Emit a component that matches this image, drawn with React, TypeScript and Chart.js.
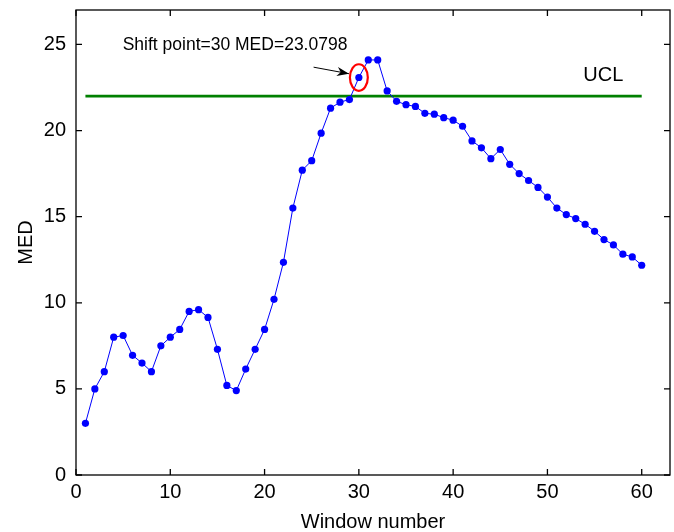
import React, { useEffect, useRef } from "react";
import { Chart, registerables } from "chart.js";

Chart.register(...registerables);

// ---------- data ----------
const windowNumbers = [
  1, 2, 3, 4, 5, 6, 7, 8, 9, 10, 11, 12, 13, 14, 15, 16, 17, 18, 19, 20,
  21, 22, 23, 24, 25, 26, 27, 28, 29, 30, 31, 32, 33, 34, 35, 36, 37, 38, 39, 40,
  41, 42, 43, 44, 45, 46, 47, 48, 49, 50, 51, 52, 53, 54, 55, 56, 57, 58, 59, 60,
];
const medValues = [
  3.0, 5.0, 6.0, 8.0, 8.1, 6.95, 6.5, 6.0, 7.5, 8.0,
  8.45, 9.5, 9.6, 9.15, 7.3, 5.2, 4.9, 6.15, 7.3, 8.45,
  10.2, 12.35, 15.5, 17.7, 18.25, 19.85, 21.3, 21.65, 21.8, 23.0798,
  24.1, 24.1, 22.3, 21.7, 21.5, 21.4, 21.0, 20.95, 20.75, 20.6,
  20.25, 19.4, 19.0, 18.37, 18.9, 18.04, 17.5, 17.1, 16.7, 16.14,
  15.5, 15.12, 14.89, 14.56, 14.15, 13.67, 13.36, 12.82, 12.66, 12.18,
];
const uclValue = 22;
const uclStartEnd = [1, 60];
const xTickValues = [0, 10, 20, 30, 40, 50, 60];
const yTickValues = [0, 5, 10, 15, 20, 25];
const xTitle = "Window number";
const yTitle = "MED";
const uclLabel = "UCL";
const shiftPoint = 30;
const shiftText = "Shift point=30 MED=23.0798";

const FONT = "'Liberation Sans', Arial, Helvetica, sans-serif";

const overlayPlugin = {
  id: "matlabOverlay",
  afterDraw(chart: any) {
    const { ctx, chartArea } = chart;
    const xs = chart.scales.x;
    const ys = chart.scales.y;
    const { left, right, top, bottom } = chartArea;
    ctx.save();
    // frame
    ctx.strokeStyle = "#000";
    ctx.lineWidth = 1.3;
    ctx.strokeRect(left, top, right - left, bottom - top);
    // inward ticks
    const tl = 6;
    ctx.beginPath();
    xTickValues.forEach((v) => {
      const px = xs.getPixelForValue(v);
      ctx.moveTo(px, bottom);
      ctx.lineTo(px, bottom - tl);
      ctx.moveTo(px, top);
      ctx.lineTo(px, top + tl);
    });
    yTickValues.forEach((v) => {
      const py = ys.getPixelForValue(v);
      ctx.moveTo(left, py);
      ctx.lineTo(left + tl, py);
      ctx.moveTo(right, py);
      ctx.lineTo(right - tl, py);
    });
    ctx.stroke();

    // axis titles
    ctx.fillStyle = "#000";
    ctx.font = `20px ${FONT}`;
    ctx.textAlign = "center";
    ctx.textBaseline = "middle";
    ctx.fillText(xTitle, (left + right) / 2, 522);
    ctx.save();
    ctx.translate(26, (top + bottom) / 2);
    ctx.rotate(-Math.PI / 2);
    ctx.fillText(yTitle, 0, 0);
    ctx.restore();

    // UCL label
    ctx.textAlign = "left";
    ctx.fillText(uclLabel, xs.getPixelForValue(53.8), ys.getPixelForValue(23.2));

    // shift annotation text
    ctx.font = `17.5px ${FONT}`;
    ctx.fillText(shiftText, xs.getPixelForValue(4.95), ys.getPixelForValue(24.94));

    // arrow
    const ax0 = xs.getPixelForValue(25.2);
    const ay0 = ys.getPixelForValue(23.68);
    const ax1 = xs.getPixelForValue(28.95);
    const ay1 = ys.getPixelForValue(23.3);
    const ang = Math.atan2(ay1 - ay0, ax1 - ax0);
    ctx.strokeStyle = "#000";
    ctx.lineWidth = 1;
    ctx.beginPath();
    ctx.moveTo(ax0, ay0);
    ctx.lineTo(ax1, ay1);
    ctx.stroke();
    const hl = 12;
    const hw = 4.5;
    const bx = ax1 - hl * Math.cos(ang);
    const by = ay1 - hl * Math.sin(ang);
    const nx = -Math.sin(ang);
    const ny = Math.cos(ang);
    const backX = ax1 - hl * 0.7 * Math.cos(ang);
    const backY = ay1 - hl * 0.7 * Math.sin(ang);
    ctx.fillStyle = "#000";
    ctx.beginPath();
    ctx.moveTo(ax1, ay1);
    ctx.lineTo(bx + nx * hw, by + ny * hw);
    ctx.lineTo(backX, backY);
    ctx.lineTo(bx - nx * hw, by - ny * hw);
    ctx.closePath();
    ctx.fill();

    // red ellipse around shift point
    const cx = xs.getPixelForValue(shiftPoint);
    const cy = ys.getPixelForValue(medValues[shiftPoint - 1]);
    const rx = Math.abs(xs.getPixelForValue(shiftPoint + 0.95) - cx);
    const ry = Math.abs(ys.getPixelForValue(medValues[shiftPoint - 1] + 0.77) - cy);
    ctx.strokeStyle = "#ff0000";
    ctx.lineWidth = 2.2;
    ctx.beginPath();
    ctx.ellipse(cx, cy, rx, ry, 0, 0, Math.PI * 2);
    ctx.stroke();
    ctx.restore();
  },
};

export default function App() {
  const ref = useRef<HTMLCanvasElement | null>(null);
  useEffect(() => {
    if (!ref.current) return;
    const medPoints = windowNumbers.map((x, i) => ({ x, y: medValues[i] }));
    const uclPoints = uclStartEnd.map((x) => ({ x, y: uclValue }));
    const chart = new Chart(ref.current, {
      type: "line",
      data: {
        datasets: [
          {
            label: "MED",
            data: medPoints,
            borderColor: "#0000ff",
            backgroundColor: "#0000ff",
            borderWidth: 1,
            pointRadius: 3.6,
            pointBorderWidth: 0,
            pointBackgroundColor: "#0000ff",
            tension: 0,
            order: 0,
          },
          {
            label: "UCL",
            data: uclPoints,
            borderColor: "#008000",
            borderWidth: 2.6,
            pointRadius: 0,
            tension: 0,
            order: 1,
          },
        ],
      },
      options: {
        responsive: false,
        animation: false,
        events: [],
        layout: { padding: { top: 10, right: 3.5, left: 0, bottom: 0 } },
        plugins: { legend: { display: false }, tooltip: { enabled: false } },
        scales: {
          x: {
            type: "linear",
            min: 0,
            max: 63,
            ticks: {
              stepSize: 10,
              includeBounds: false,
              autoSkip: false,
              maxRotation: 0,
              color: "#000",
              padding: 5,
              font: { family: FONT, size: 20 },
            },
            grid: { display: false, drawTicks: false },
            border: { display: false },
            afterFit: (s: any) => {
              s.height = 57;
              s.paddingLeft = 0;
              s.paddingRight = 0;
            },
          },
          y: {
            type: "linear",
            min: 0,
            max: 27,
            ticks: {
              stepSize: 5,
              includeBounds: false,
              color: "#000",
              padding: 10,
              font: { family: FONT, size: 20 },
            },
            grid: { display: false, drawTicks: false },
            border: { display: false },
            afterFit: (s: any) => {
              s.width = 76;
              s.paddingTop = 0;
              s.paddingBottom = 0;
            },
          },
        },
      },
      plugins: [overlayPlugin],
    });
    return () => chart.destroy();
  }, []);
  return (
    <div style={{ position: "fixed", left: 0, top: 0, width: 674, height: 532, background: "#fff" }}>
      <canvas ref={ref} width={674} height={532} />
    </div>
  );
}
